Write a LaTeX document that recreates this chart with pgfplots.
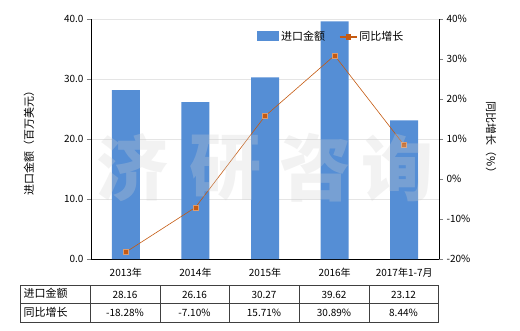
\documentclass[border=0pt]{standalone}
\usepackage{pgfplots}
\pgfplotsset{compat=1.18}
\usepackage{fontspec}
\setmainfont{Noto Sans CJK SC}
\definecolor{barblue}{HTML}{558ED5}
\definecolor{lineor}{HTML}{C55A11}
\definecolor{tabline}{HTML}{404040}
\begin{document}
\begin{tikzpicture}[x=1pt,y=1pt]
\useasboundingbox (0,0) rectangle (520,330);
\begin{axis}[
  at={(91pt,71pt)}, anchor=south west, scale only axis,
  width=348pt, height=240pt,
  xmin=-0.5, xmax=4.5, ymin=0, ymax=40,
  axis x line*=bottom, axis y line*=left,
  axis line style={-,black},
  ytick={0,10,20,30,40},
  yticklabel style={/pgf/number format/.cd,fixed,fixed zerofill,precision=1},
  /pgf/number format/assume math mode=true,
  ymajorgrids, grid style={black!10},
  tick align=outside, major tick length=4pt,
  xtick={0,1,2,3,4},
  xticklabels={2013年,2014年,2015年,2016年,2017年1-7月},
  x tick style={draw=none},
  ticklabel style={font=\fontsize{10}{12}\selectfont},
  xticklabel style={yshift=-2pt},
  legend style={draw=none, fill=none, legend columns=2, at={(0.69,0.925)}, anchor=center,
    font=\fontsize{11}{13}\selectfont,
    /tikz/every even column/.append style={column sep=12pt}},
]
\addplot[ybar, bar width=28pt, fill=barblue, draw=none,
  legend image code/.code={\fill[barblue] (0cm,-0.14cm) rectangle (0.78cm,0.22cm);}]
  coordinates {(0,28.16) (1,26.16) (2,30.27) (3,39.62) (4,23.12)};
\addlegendentry{进口金额}
\addlegendimage{lineor, line width=1.2pt, mark=square*, mark size=2pt, mark options={fill=lineor}}
\addlegendentry{同比增长}
\end{axis}
\begin{axis}[
  at={(91pt,71pt)}, anchor=south west, scale only axis,
  width=348pt, height=240pt,
  xmin=-0.5, xmax=4.5, ymin=-20, ymax=40,
  axis y line*=right, axis x line=none,
  axis line style={-,black},
  ytick={-20,-10,0,10,20,30,40},
  yticklabel={\pgfmathprintnumber{\tick}\%},
  /pgf/number format/assume math mode=true,
  tick align=outside, major tick length=4pt,
  ticklabel style={font=\fontsize{10}{12}\selectfont},
]
\addplot[lineor, line width=0.6pt, mark=square*, mark size=2.5pt, mark options={fill=lineor, draw=lineor!60}]
  coordinates {(0,-18.28) (1,-7.10) (2,15.71) (3,30.89) (4,8.44)};
\end{axis}
% watermark
\begin{scope}[opacity=0.28]
\node[text=black!18, font=\fontsize{72}{72}\selectfont\bfseries] at (132,162) {济};
\node[text=black!18, font=\fontsize{72}{72}\selectfont\bfseries] at (225,162) {研};
\node[text=black!18, font=\fontsize{72}{72}\selectfont\bfseries] at (315,162) {咨};
\node[text=black!18, font=\fontsize{72}{72}\selectfont\bfseries] at (397,162) {询};
\end{scope}
% axis titles
\node[rotate=90, font=\fontsize{11}{13}\selectfont] at (29,190) {进口金额（百万美元）};
\node[rotate=-90, font=\fontsize{11}{13}\selectfont] at (491,190) {同比增长（\%）};
% table
\draw[tabline, line width=0.6pt] (20,8) rectangle (438,45);
\draw[tabline, line width=0.6pt] (20,26.5) -- (438,26.5);
\foreach \x in {90,160,229,299,369} {\draw[tabline, line width=0.6pt] (\x,8) -- (\x,45);}
\begin{scope}[font=\fontsize{10}{12}\selectfont]
\node[anchor=west, font=\fontsize{11}{13}\selectfont] at (20,36.5) {进口金额};
\node[anchor=west, font=\fontsize{11}{13}\selectfont] at (20,18) {同比增长};
\node at (125,35.5) {28.16};
\node at (194.5,35.5) {26.16};
\node at (264,35.5) {30.27};
\node at (334,35.5) {39.62};
\node at (403.5,35.5) {23.12};
\node at (125,17) {-18.28\%};
\node at (194.5,17) {-7.10\%};
\node at (264,17) {15.71\%};
\node at (334,17) {30.89\%};
\node at (403.5,17) {8.44\%};
\end{scope}
\end{tikzpicture}
\end{document}
